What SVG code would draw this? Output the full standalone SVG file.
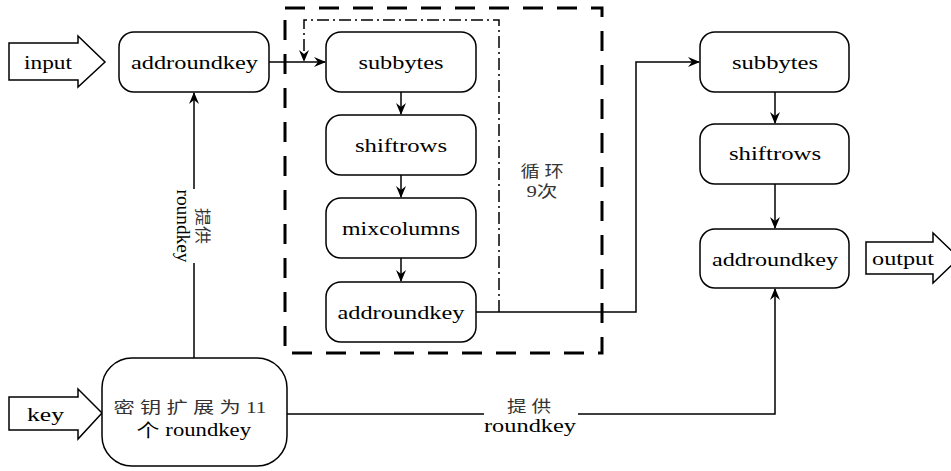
<svg xmlns="http://www.w3.org/2000/svg" width="951" height="471" viewBox="0 0 951 471">
<defs>
<marker id="arr" viewBox="0 0 12 10" refX="11" refY="5" markerWidth="12" markerHeight="10" markerUnits="userSpaceOnUse" orient="auto">
<path d="M0,0 L12,5 L0,10 L4,5 Z" fill="#000"/>
</marker>
</defs>
<style>
.box{fill:#fff;stroke:#000;stroke-width:1.5}
.t{font-family:'Liberation Serif',serif;font-size:18px;fill:#000;text-anchor:middle}
.c{font-family:'Liberation Serif','Noto Sans CJK SC',serif;font-size:16px;fill:#333;text-anchor:middle}
.ln{fill:none;stroke:#000;stroke-width:1.5}
</style>
<rect width="951" height="471" fill="#fff"/>

<g id="loop-frame">
<rect x="285" y="8" width="317" height="345" fill="none" stroke="#000" stroke-width="3" stroke-dasharray="20,14"/>
</g>

<g id="connectors">
<path class="ln" d="M269,62 L325,62" marker-end="url(#arr)"/>
<path class="ln" d="M499,312 L499,20 L304,20 L304,61" stroke-dasharray="12,4,2,4" marker-end="url(#arr)"/>
<path class="ln" d="M401,92 L401,114" marker-end="url(#arr)"/>
<path class="ln" d="M401,175 L401,197" marker-end="url(#arr)"/>
<path class="ln" d="M401,258 L401,281" marker-end="url(#arr)"/>
<path class="ln" d="M476,312 L636,312 L636,62 L699,62" marker-end="url(#arr)"/>
<path class="ln" d="M775,92 L775,123" marker-end="url(#arr)"/>
<path class="ln" d="M775,184 L775,228" marker-end="url(#arr)"/>
<path class="ln" d="M194,358 L194,93" marker-end="url(#arr)"/>
<path class="ln" d="M287,414 L775,414 L775,289" marker-end="url(#arr)"/>
<rect x="484" y="396" width="94" height="40" fill="#fff"/>
<text class="c" x="529" y="412" textLength="44" lengthAdjust="spacingAndGlyphs">提 供</text>
<text class="t" font-family="Liberation Serif" x="530" y="432" textLength="92" lengthAdjust="spacingAndGlyphs">roundkey</text>
<g transform="translate(189,226) rotate(90)">
<rect x="-37" y="-14" width="74" height="28" fill="#fff"/>
<text class="c" x="0" y="-8" textLength="36" lengthAdjust="spacingAndGlyphs">提供</text>
<text class="t" font-family="Liberation Serif" x="0" y="12" textLength="73" lengthAdjust="spacingAndGlyphs">roundkey</text>
</g>
<text class="c" x="542" y="177" textLength="43" lengthAdjust="spacingAndGlyphs">循 环</text>
<text class="c" x="542" y="197" textLength="31" lengthAdjust="spacingAndGlyphs">9次</text>
</g>

<g id="input">
<path class="box" d="M9,43 L78,43 L78,36 L105,62 L78,87 L78,80 L9,80 Z"/>
<text class="t" font-family="Liberation Serif" x="48" y="69" textLength="48" lengthAdjust="spacingAndGlyphs">input</text>
</g>
<g id="addroundkey0">
<rect class="box" x="119" y="32" width="150" height="60" rx="15"/>
<text class="t" font-family="Liberation Serif" x="194.5" y="69" textLength="127" lengthAdjust="spacingAndGlyphs">addroundkey</text>
</g>
<g id="subbytes1">
<rect class="box" x="326" y="32" width="150" height="60" rx="15"/>
<text class="t" font-family="Liberation Serif" x="401" y="69" textLength="85" lengthAdjust="spacingAndGlyphs">subbytes</text>
</g>
<g id="shiftrows1">
<rect class="box" x="326" y="115" width="150" height="60" rx="15"/>
<text class="t" font-family="Liberation Serif" x="401" y="152" textLength="92" lengthAdjust="spacingAndGlyphs">shiftrows</text>
</g>
<g id="mixcolumns">
<rect class="box" x="326" y="198" width="150" height="60" rx="15"/>
<text class="t" font-family="Liberation Serif" x="401" y="235" textLength="118" lengthAdjust="spacingAndGlyphs">mixcolumns</text>
</g>
<g id="addroundkey1">
<rect class="box" x="326" y="282" width="150" height="60" rx="15"/>
<text class="t" font-family="Liberation Serif" x="401" y="319" textLength="127" lengthAdjust="spacingAndGlyphs">addroundkey</text>
</g>
<g id="subbytes2">
<rect class="box" x="700" y="32" width="149" height="60" rx="15"/>
<text class="t" font-family="Liberation Serif" x="775" y="69" textLength="86" lengthAdjust="spacingAndGlyphs">subbytes</text>
</g>
<g id="shiftrows2">
<rect class="box" x="700" y="124" width="149" height="60" rx="15"/>
<text class="t" font-family="Liberation Serif" x="775" y="160" textLength="92" lengthAdjust="spacingAndGlyphs">shiftrows</text>
</g>
<g id="addroundkey2">
<rect class="box" x="700" y="229" width="149" height="59" rx="15"/>
<text class="t" font-family="Liberation Serif" x="775" y="266" textLength="126" lengthAdjust="spacingAndGlyphs">addroundkey</text>
</g>
<g id="output">
<path class="box" d="M866,242 L933,242 L933,233 L959,258 L933,283 L933,274 L866,274 Z"/>
<text class="t" font-family="Liberation Serif" x="903" y="265" textLength="62" lengthAdjust="spacingAndGlyphs">output</text>
</g>
<g id="key">
<path class="box" d="M9,397 L78,397 L78,389 L102,413 L78,439 L78,430 L9,430 Z"/>
<text class="t" font-family="Liberation Serif" x="45.5" y="421" textLength="37" lengthAdjust="spacingAndGlyphs">key</text>
</g>
<g id="keyexpansion">
<rect class="box" x="102" y="358" width="185" height="108" rx="30"/>
<text class="c" x="190" y="413" textLength="153" lengthAdjust="spacingAndGlyphs">密 钥 扩 展 为 11</text>
<text class="t" font-family="Liberation Serif, Noto Sans CJK SC, serif" x="194" y="436" textLength="114" lengthAdjust="spacingAndGlyphs">个 roundkey</text>
</g>
</svg>
